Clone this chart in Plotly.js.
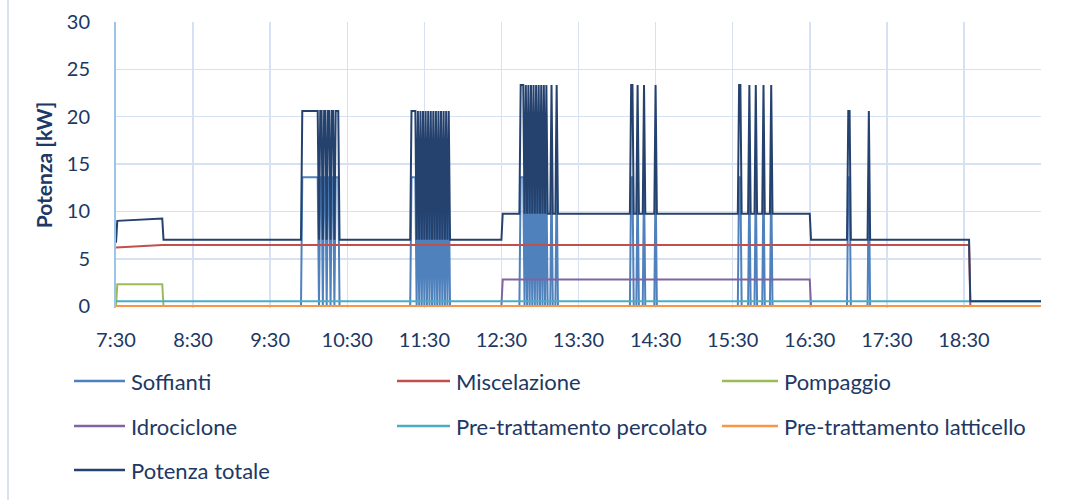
<!DOCTYPE html>
<html>
<head>
<meta charset="utf-8">
<script src="https://cdn.plot.ly/plotly-3.0.1.min.js"></script>
<style>html,body{margin:0;padding:0;background:#fff;}#chart{width:1079px;height:500px;}</style>
</head>
<body>
<div id="chart"></div>
<script>
// ---- DATA ----
const orari = [
  "07:30","07:31","08:06","08:07","09:54","09:55","10:07","10:08","10:09","10:10","10:11","10:12","10:13",
  "10:14","10:15","10:16","10:17","10:18","10:19","10:20","10:21","10:23","10:24",
  "11:19","11:20","11:23","11:24","11:25","11:26","11:27","11:28","11:29","11:30","11:31","11:32","11:33",
  "11:34","11:35","11:36","11:37","11:38","11:39","11:40","11:41","11:42","11:43","11:44","11:45","11:46",
  "11:47","11:48","11:49","11:50",
  "12:30","12:31","12:44","12:45","12:47","12:48","12:49","12:50","12:51","12:52","12:53","12:54","12:55",
  "12:56","12:57","12:58","12:59","13:00","13:01","13:02","13:03","13:04","13:05","13:06","13:08","13:09",
  "13:10","13:12","13:13","13:14",
  "14:10","14:11","14:12","14:13","14:15","14:16","14:17","14:20","14:21","14:22","14:29","14:30","14:31",
  "15:34","15:35","15:36","15:37","15:42","15:43","15:44","15:47","15:48","15:49","15:53","15:54","15:55",
  "15:59","16:00","16:01","16:30","16:31",
  "16:59","17:00","17:01","17:02","17:15","17:16","17:17","18:34","18:35","19:30"
];
const soffianti = [
  0,0,0,0,0,13.6,13.6,0,13.6,13.6,0,13.6,13.6,
  0,13.6,13.6,0,13.6,13.6,0,13.6,13.6,0,
  0,13.6,13.6,0,13.6,0,13.6,0,13.6,0,13.6,0,13.6,
  0,13.6,0,13.6,0,13.6,0,13.6,0,13.6,0,13.6,0,
  13.6,0,13.6,0,
  0,0,0,13.6,13.6,0,13.6,0,13.6,0,13.6,0,13.6,
  0,13.6,0,13.6,0,13.6,0,13.6,0,13.6,0,0,13.6,
  0,0,13.6,0,
  0,13.6,13.6,0,0,13.6,0,0,13.6,0,0,13.6,0,
  0,13.6,13.6,0,0,13.6,0,0,13.6,0,0,13.6,0,
  0,13.6,0,0,0,
  0,13.6,13.6,0,0,13.6,0,0,0,0
];
const potenzaTotale = [
  6.7,9.0,9.25,7.0,7.0,20.6,20.6,7.0,20.6,20.6,7.0,20.6,20.6,
  7.0,20.6,20.6,7.0,20.6,20.6,7.0,20.6,20.6,7.0,
  7.0,20.6,20.6,7.0,20.6,7.0,20.6,7.0,20.6,7.0,20.6,7.0,20.6,
  7.0,20.6,7.0,20.6,7.0,20.6,7.0,20.6,7.0,20.6,7.0,20.6,7.0,
  20.6,7.0,20.6,7.0,
  7.0,9.75,9.75,23.35,23.35,9.75,23.35,9.75,23.35,9.75,23.35,9.75,23.35,
  9.75,23.35,9.75,23.35,9.75,23.35,9.75,23.35,9.75,23.35,9.75,9.75,23.35,
  9.75,9.75,23.35,9.75,
  9.75,23.35,23.35,9.75,9.75,23.35,9.75,9.75,23.35,9.75,9.75,23.35,9.75,
  9.75,23.35,23.35,9.75,9.75,23.35,9.75,9.75,23.35,9.75,9.75,23.35,9.75,
  9.75,23.35,9.75,9.75,7.0,
  7.0,20.6,20.6,7.0,7.0,20.6,7.0,7.0,0.5,0.5
];
const orariMiscelazione = ["07:30","08:06","18:34","18:35","19:30"];
const miscelazione      = [6.2, 6.45, 6.45, 0, 0];
const orariPompaggio    = ["07:30","07:31","08:06","08:07","19:30"];
const pompaggio         = [0, 2.3, 2.3, 0, 0];
const orariIdrociclone  = ["07:30","12:30","12:31","16:30","16:31","19:30"];
const idrociclone       = [0, 0, 2.8, 2.8, 0, 0];
const orariPercolato    = ["07:30","19:30"];
const percolato         = [0.5, 0.5];
const orariLatticello   = ["07:30","19:30"];
const latticello        = [0, 0];
const tickLabels = ["7:30","8:30","9:30","10:30","11:30","12:30","13:30","14:30","15:30","16:30","17:30","18:30"];
const yTicks = [0,5,10,15,20,25,30];

// ---- helpers ----
function toDate(t){ const p=t.split(':'); return '2024-01-01 ' + (p[0].length<2?'0'+p[0]:p[0]) + ':' + p[1]; }

const FONT = 'Lato, "Open Sans", sans-serif';
const TXT = '#203864';
const W = 1079, H = 500;
const M = {l:116, r:38, t:22, b:192};
const PW = W - M.l - M.r, PH = H - M.t - M.b;
const px2x = px => (px - M.l) / PW;
const py2y = py => (H - M.b - py) / PH;

const series = [
  {name:'Soffianti', x:orari, y:soffianti, color:'#4f81bd'},
  {name:'Miscelazione', x:orariMiscelazione, y:miscelazione, color:'#c0504d'},
  {name:'Pompaggio', x:orariPompaggio, y:pompaggio, color:'#9bbb59'},
  {name:'Idrociclone', x:orariIdrociclone, y:idrociclone, color:'#8064a2'},
  {name:'Pre-trattamento percolato', x:orariPercolato, y:percolato, color:'#4bacc6'},
  {name:'Pre-trattamento latticello', x:orariLatticello, y:latticello, color:'#f79646'},
  {name:'Potenza totale', x:orari, y:potenzaTotale, color:'#25426f'}
];

const traces = series.map(s => ({
  type:'scatter', mode:'lines', name:s.name,
  x:s.x.map(toDate), y:s.y,
  line:{color:s.color, width:2},
  showlegend:false, hoverinfo:'skip'
}));

// manual legend (3 columns, rows spaced like the reference)
const colLine = [[74,125],[397,450],[722,778]];
const colText = [129,454,782];
const rowY = [381,426,470];
const shapes = [];
const annotations = [];
series.forEach((s,i) => {
  const c = i % 3, r = Math.floor(i/3);
  shapes.push({type:'line', xref:'paper', yref:'paper',
    x0:px2x(colLine[c][0]), x1:px2x(colLine[c][1]), y0:py2y(rowY[r]), y1:py2y(rowY[r]),
    line:{color:s.color, width:2.5}});
  annotations.push({xref:'paper', yref:'paper', x:px2x(colText[c]), y:py2y(rowY[r]),
    xanchor:'left', yanchor:'middle', showarrow:false, text:s.name,
    font:{family:FONT, size:22, color:TXT}});
});
// page border line on the left
shapes.push({type:'line', xref:'paper', yref:'paper', x0:px2x(8), x1:px2x(8), y0:py2y(0), y1:py2y(500),
  line:{color:'#d9e2f3', width:2}});

const layout = {
  width:W, height:H, margin:M,
  paper_bgcolor:'#ffffff', plot_bgcolor:'#ffffff',
  font:{family:FONT, color:TXT},
  xaxis:{
    type:'date',
    range:[toDate('07:30'), toDate('19:30')],
    tickmode:'array',
    tickvals:tickLabels.map(toDate),
    ticktext:tickLabels,
    showgrid:true, gridcolor:'#d6e1f3', gridwidth:1.5,
    zeroline:false, showline:false, ticks:'',
    ticklabelstandoff:18,
    tickfont:{family:FONT, size:20, color:TXT}
  },
  yaxis:{
    range:[-0.2,30], tickmode:'array', tickvals:yTicks,
    showgrid:true, gridcolor:'#d6e1f3', gridwidth:1.5,
    zeroline:false, showline:true, linecolor:'#9dc3e6', linewidth:2, ticks:'',
    ticklabelstandoff:20,
    tickfont:{family:FONT, size:20, color:TXT},
    title:{text:'Potenza [kW]', standoff:8, font:{family:FONT, size:21, color:TXT, weight:'bold'}}
  },
  shapes:shapes,
  annotations:annotations
};

Plotly.newPlot('chart', traces, layout, {staticPlot:true, displayModeBar:false});
</script>
</body>
</html>
